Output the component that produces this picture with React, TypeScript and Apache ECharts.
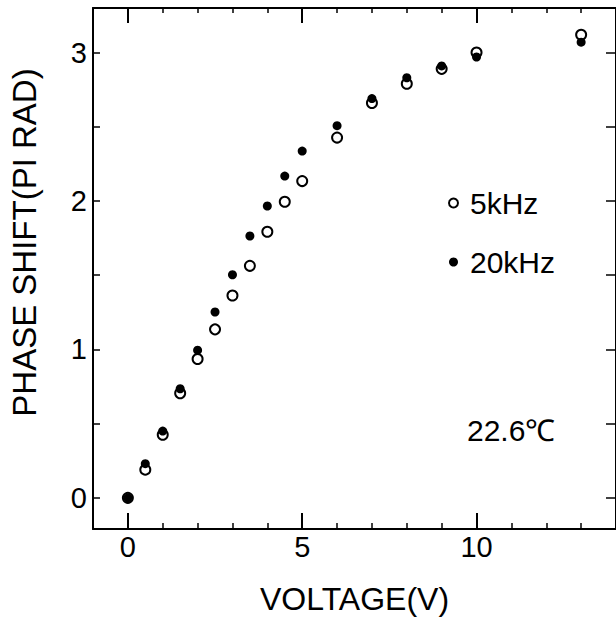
import React, { useEffect, useRef } from "react";
import * as echarts from "echarts";

const voltage5k = [0, 0.5, 1, 1.5, 2, 2.5, 3, 3.5, 4, 4.5, 5, 6, 7, 8, 9, 10, 13];
const phase5k = [0, 0.19, 0.425, 0.705, 0.935, 1.135, 1.363, 1.563, 1.793, 1.995, 2.134, 2.427, 2.66, 2.79, 2.89, 3.0, 3.12];
const voltage20k = [0, 0.5, 1, 1.5, 2, 2.5, 3, 3.5, 4, 4.5, 5, 6, 7, 8, 9, 10, 13];
const phase20k = [0, 0.23, 0.45, 0.735, 0.995, 1.252, 1.503, 1.764, 1.966, 2.168, 2.336, 2.507, 2.69, 2.83, 2.91, 2.97, 3.07];

const xMajorTicks = [0, 5, 10];
const xMinorTicks = [0, 1, 2, 3, 4, 5, 6, 7, 8, 9, 10, 11, 12, 13];
const yLabelTicks = [0, 1, 2, 3];
const yTicks = [0, 0.5, 1, 1.5, 2, 2.5, 3];

const seriesNames = ["5kHz", "20kHz"];
const annotation = "22.6℃";
const xTitle = "VOLTAGE(V)";
const yTitle = "PHASE SHIFT(PI RAD)";

const FONT = "'Liberation Sans', Arial, Helvetica, sans-serif";

export default function App() {
  const ref = useRef<HTMLDivElement>(null);
  useEffect(() => {
    if (!ref.current) return;
    const chart = echarts.init(ref.current, null, { renderer: "svg" });
    const black = "#000";
    const xBase = {
      type: "value",
      min: -1,
      max: 14,
      gridIndex: 0,
      splitLine: { show: false },
    };
    const yBase = {
      type: "value",
      min: -0.21,
      max: 3.3,
      gridIndex: 0,
      splitLine: { show: false },
    };
    chart.setOption({
      animation: false,
      backgroundColor: "#fff",
      textStyle: { fontFamily: FONT, color: black },
      grid: { left: 91.5, top: 8, width: 527, height: 528, containLabel: false },
      xAxis: [
        {
          ...xBase,
          position: "bottom",
          axisLine: { show: true, onZero: false, lineStyle: { color: black, width: 2 } },
          axisTick: { show: true, inside: true, length: 6, customValues: xMinorTicks, lineStyle: { color: black, width: 1.5 } },
          axisLabel: { show: true, customValues: xMajorTicks, fontSize: 29, color: black, fontFamily: FONT, margin: 3 },
          name: xTitle,
          nameLocation: "middle",
          nameGap: 54,
          nameTextStyle: { fontSize: 32, color: black, fontFamily: FONT },
        },
        {
          ...xBase,
          position: "bottom",
          axisLine: { show: false, onZero: false },
          axisTick: { show: true, inside: true, length: 16, customValues: xMajorTicks, lineStyle: { color: black, width: 2 } },
          axisLabel: { show: false },
        },
        {
          ...xBase,
          position: "top",
          axisLine: { show: true, onZero: false, lineStyle: { color: black, width: 2 } },
          axisTick: { show: true, inside: true, length: 5, customValues: xMinorTicks, lineStyle: { color: black, width: 1.5 } },
          axisLabel: { show: false },
        },
        {
          ...xBase,
          position: "top",
          axisLine: { show: false, onZero: false },
          axisTick: { show: true, inside: true, length: 15, customValues: xMajorTicks, lineStyle: { color: black, width: 2 } },
          axisLabel: { show: false },
        },
      ],
      yAxis: [
        {
          ...yBase,
          position: "left",
          axisLine: { show: true, onZero: false, lineStyle: { color: black, width: 2 } },
          axisTick: { show: true, inside: true, length: 7, customValues: yTicks, lineStyle: { color: black, width: 1.5 } },
          axisLabel: { show: true, customValues: yLabelTicks, fontSize: 29, color: black, fontFamily: FONT, margin: 6 },
          name: yTitle,
          nameLocation: "middle",
          nameGap: 52,
          nameTextStyle: { fontSize: 33, color: black, fontFamily: FONT, padding: [0, 0, 0, 52] },
        },
        {
          ...yBase,
          position: "right",
          axisLine: { show: true, onZero: false, lineStyle: { color: black, width: 2 } },
          axisTick: { show: true, inside: true, length: 10, customValues: yTicks, lineStyle: { color: black, width: 1.5 } },
          axisLabel: { show: false },
        },
      ],
      legend: {
        show: true,
        orient: "vertical",
        left: 443,
        top: 183,
        itemWidth: 9,
        itemHeight: 9,
        itemGap: 29,
        data: seriesNames,
        textStyle: { fontSize: 30, color: black, fontFamily: FONT, padding: [0, 0, 0, 7] },
      },
      series: [
        {
          name: seriesNames[0],
          type: "scatter",
          xAxisIndex: 0,
          yAxisIndex: 0,
          symbol: "circle",
          symbolSize: 10,
          itemStyle: { color: "#fff", borderColor: black, borderWidth: 2, opacity: 1 },
          data: voltage5k.map((v, i) => [v, phase5k[i]]),
          z: 2,
        },
        {
          name: seriesNames[1],
          type: "scatter",
          xAxisIndex: 0,
          yAxisIndex: 0,
          symbol: "circle",
          symbolSize: 9,
          itemStyle: { color: black, opacity: 1 },
          data: voltage20k.map((v, i) => [v, phase20k[i]]),
          z: 3,
        },
      ],
      graphic: [
        {
          type: "text",
          left: 467,
          top: 415,
          style: { text: annotation, fontSize: 30, fill: black, fontFamily: FONT },
        },
      ],
    });
    return () => chart.dispose();
  }, []);
  return <div ref={ref} style={{ position: "absolute", left: 0, top: 0, width: 616, height: 620 }} />;
}
